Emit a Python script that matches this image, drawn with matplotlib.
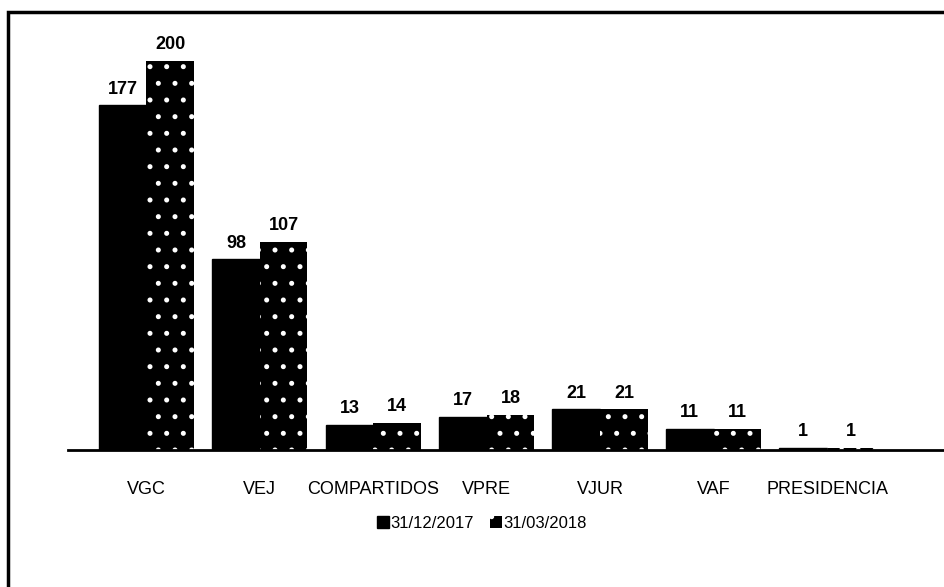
import numpy as np
import matplotlib.pyplot as plt
from matplotlib.patches import Rectangle

plt.rcParams['font.family'] = ['Liberation Sans', 'DejaVu Sans']
plt.rcParams['hatch.linewidth'] = 1.2

categories = ['VGC', 'VEJ', 'COMPARTIDOS', 'VPRE', 'VJUR', 'VAF', 'PRESIDENCIA']
dic_2017 = [177, 98, 13, 17, 21, 11, 1]
mar_2018 = [200, 107, 14, 18, 21, 11, 1]
series_labels = ['31/12/2017', '31/03/2018']

fig = plt.figure(figsize=(9.45, 5.87), dpi=100)
ax = fig.add_axes([0.072, 0.233, 0.928, 0.73])

x = np.arange(len(categories))
w = 0.42
b1 = ax.bar(x - w / 2, dic_2017, w, color='black', edgecolor='black',
            label=series_labels[0])
# white hatch on black: hatch takes the edge colour, so hide the edge line
b2 = ax.bar(x + w / 2, mar_2018, w, color='black', edgecolor='white',
            linewidth=0, hatch='.', label=series_labels[1])

for bars in (b1, b2):
    for r in bars:
        ax.text(r.get_x() + r.get_width() / 2, r.get_height() + 4,
                f'{int(r.get_height())}', ha='center', va='bottom',
                fontsize=13, fontweight='bold')

ax.set_xlim(-0.69, 7.04)
ax.set_ylim(0, 220)
ax.set_yticks([])
ax.set_xticks(x)
ax.set_xticklabels(categories, fontsize=13)
ax.tick_params(axis='x', length=0, pad=22)
for s in ['top', 'right', 'left']:
    ax.spines[s].set_visible(False)
ax.spines['bottom'].set_linewidth(2)

fig.legend(handles=[b1, b2], loc='center', bbox_to_anchor=(0.51, 0.108),
           ncol=2, frameon=False, fontsize=12, handlelength=0.7,
           handletextpad=0.1, columnspacing=1.0)

# scanned page border
fig.add_artist(Rectangle((8 / 945, -0.05), 1.1, 1 - 12 / 587 + 0.05,
                         transform=fig.transFigure, fill=False,
                         edgecolor='black', linewidth=2.5))

fig.savefig('out.png', dpi=100)
